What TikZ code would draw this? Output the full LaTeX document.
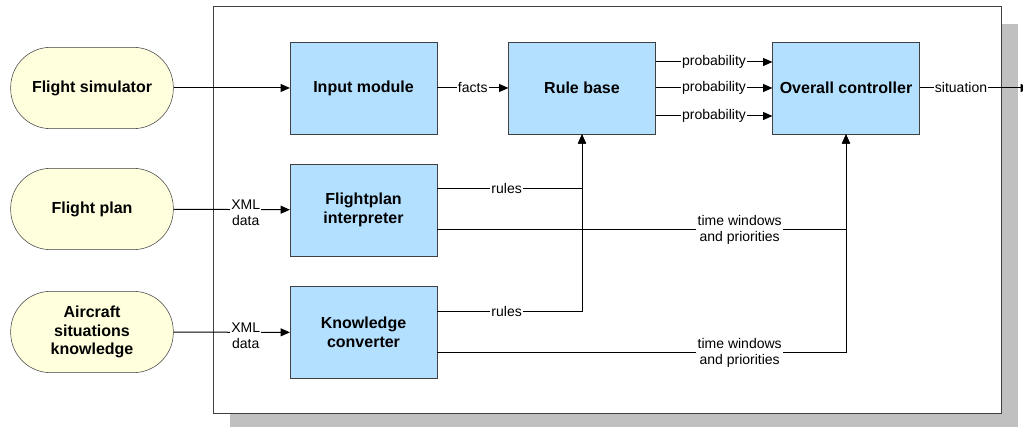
\documentclass[tikz,border=0pt]{standalone}
\usepackage{fontspec}
\setmainfont{Liberation Sans}
\usetikzlibrary{arrows.meta}
\definecolor{srcfill}{HTML}{FFFFDD}
\definecolor{boxfill}{HTML}{B3E0FF}
\definecolor{framegray}{HTML}{404040}
\definecolor{shadowgray}{HTML}{C0C0C0}
\tikzset{
    source/.style={draw=framegray, fill=srcfill, rounded corners=30pt,
        minimum width=122pt, minimum height=61pt, align=center,
        font=\fontsize{12}{14}\selectfont\bfseries},
    module/.style={draw=framegray, fill=boxfill, minimum width=110pt,
        minimum height=69pt, align=center,
        font=\fontsize{12}{14}\selectfont\bfseries},
    lbl/.style={fill=white, inner sep=1pt, align=center,
        font=\fontsize{10.5}{12}\selectfont},
    arr/.style={-{Triangle[length=7pt,width=6pt]}, line width=0.75pt}
}
\begin{document}
\begin{tikzpicture}[x=0.75pt,y=-0.75pt]
    \useasboundingbox (0,0) rectangle (1023,427);
    % frame with its shadow
    \fill[shadowgray] (230,24) rectangle (1018,440);
    \draw[framegray, fill=white, line width=0.75pt] (213,7) rectangle (1001,413);
    % sources outside the frame
    \node[source] (sim) at (92,88) {Flight simulator};
    \node[source] (plan) at (92,209) {Flight plan};
    \node[source] (know) at (92,332) {Aircraft\\situations\\knowledge};
    % modules
    \node[module] (in) at (363.5,88) {Input module};
    \node[module] (fpi) at (363.5,210) {Flightplan\\interpreter};
    \node[module] (kc) at (363.5,332.5) {Knowledge\\converter};
    \node[module] (rule) at (582,88) {Rule base};
    \node[module] (ctl) at (846,88) {Overall controller};
    \coordinate (out) at (1030,88);
    % inputs
    \draw[arr] (sim) -- (in);
    \draw[arr] (plan) -- node[lbl,pos=0.62,anchor=north,yshift=8.5pt] {XML\\data} (fpi);
    \draw[arr] (know) -- node[lbl,pos=0.62,anchor=north,yshift=8.5pt] {XML\\data} (kc);
    \draw[arr] (in) -- node[lbl] {facts} (rule);
    \foreach \s in {19.5pt,0pt,-21pt}
        {
            \draw[arr] ([yshift=\s]rule.east) -- node[lbl] {probability} ([yshift=\s]ctl.west);
        }
    \draw[arr] (ctl) -- node[lbl,pos=0.375] {situation} (out);
    % rules and time windows
    \draw[arr] ([yshift=16pt]fpi.east) -| node[lbl,pos=0.24] {rules} (rule.south);
    \draw[arr] ([yshift=16pt]kc.east) -| node[lbl,pos=0.24] {rules} (rule.south);
    \draw[arr] ([yshift=-15pt]fpi.east) -| node[lbl,pos=0.37] {time windows\\and priorities} (ctl.south);
    \draw[arr] ([yshift=-15pt]kc.east) -| node[lbl,pos=0.37] {time windows\\and priorities} (ctl.south); %same x as above
\end{tikzpicture}
\end{document}
